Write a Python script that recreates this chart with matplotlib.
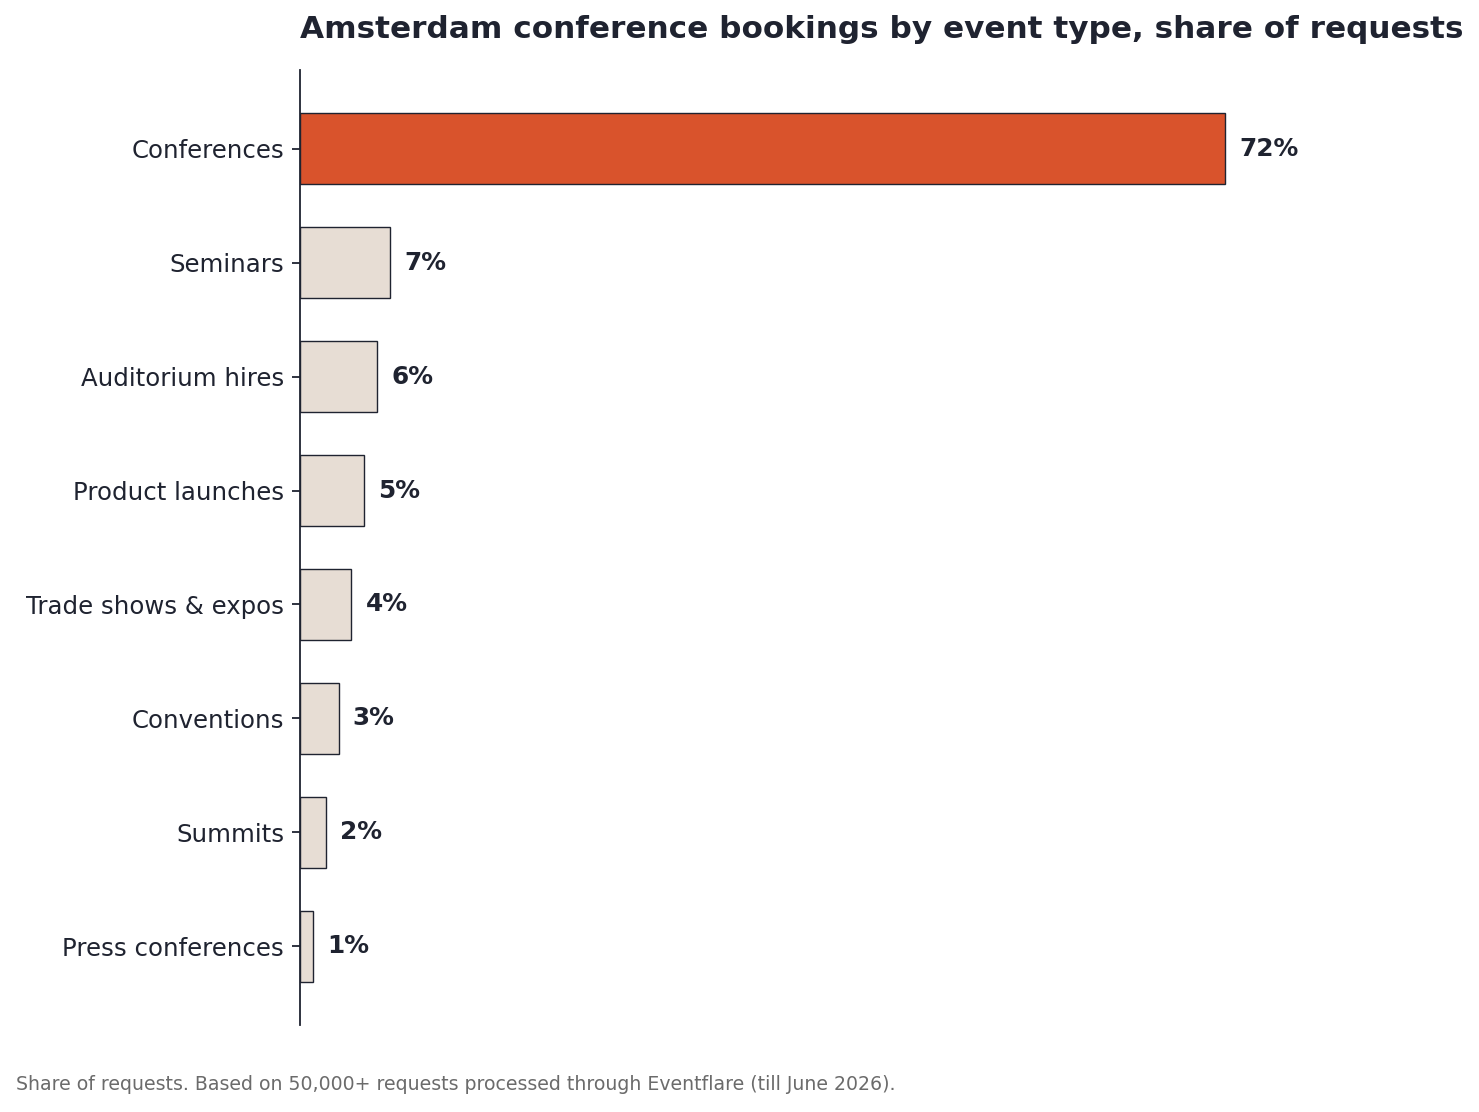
import matplotlib.pyplot as plt

# data
categories = ['Conferences', 'Seminars', 'Auditorium hires', 'Product launches',
              'Trade shows & expos', 'Conventions', 'Summits', 'Press conferences']
shares = [72, 7, 6, 5, 4, 3, 2, 1]
highlight = 'Conferences'

dark = '#1f2330'
fig = plt.figure(figsize=(14.79, 11.12), dpi=100)
ax = fig.add_axes([300 / 1479, 1 - 1025 / 1112, 1028 / 1479, 955 / 1112])

ypos = list(range(len(categories)))
colors = ['#d9532c' if c == highlight else '#e7ddd4' for c in categories]
bars = ax.barh(ypos, shares, height=0.62, color=colors, edgecolor=dark, linewidth=1)

ax.set_yticks(ypos)
ax.set_yticklabels(categories, fontsize=17.6, color=dark)
ax.invert_yaxis()
ax.set_ylim(len(categories) - 1 + 0.69, -0.69)
ax.set_xlim(0, 80)
ax.set_xticks([])

for s in ['top', 'right', 'bottom']:
    ax.spines[s].set_visible(False)
ax.spines['left'].set_color(dark)
ax.spines['left'].set_linewidth(1.3)
ax.tick_params(axis='y', color=dark, length=6, width=1.3, pad=5.5)

for bar, v in zip(bars, shares):
    ax.text(bar.get_width() + 1.1, bar.get_y() + bar.get_height() / 2, f'{v}%',
            va='center', ha='left', fontsize=17.8, fontweight='bold', color=dark)

fig.text(300 / 1479, 1 - 30 / 1112, 'Amsterdam conference bookings by event type, share of requests',
         fontsize=22.4, fontweight='bold', color=dark, ha='left', va='center')
fig.text(16 / 1479, 1 - 1085 / 1112,
         'Share of requests. Based on 50,000+ requests processed through Eventflare (till June 2026).',
         fontsize=13.6, color='#6b6b6b', ha='left', va='center')

plt.savefig('out.png', dpi=100)
